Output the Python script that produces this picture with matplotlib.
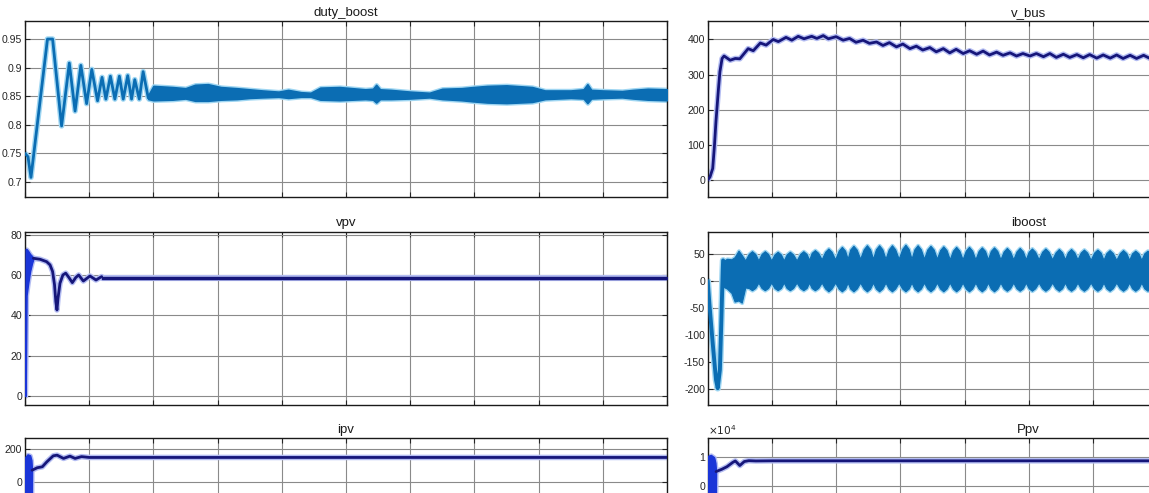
import matplotlib
matplotlib.use('Agg')
import matplotlib.pyplot as plt
from matplotlib.ticker import FuncFormatter

plt.rcParams['font.family'] = ['Liberation Sans', 'DejaVu Sans']

# ---------------- data (time axis 0..10) ----------------
x_ticks = [0, 1, 2, 3, 4, 5, 6, 7, 8, 9, 10]

# duty_boost : start-up zigzag
duty_t = [0, 0.047, 0.093, 0.35, 0.43, 0.57, 0.69, 0.78, 0.87, 0.96, 1.04, 1.13, 1.20,
          1.26, 1.33, 1.40, 1.47, 1.53, 1.60, 1.66, 1.71, 1.78, 1.84, 1.92]
duty_v = [0.750, 0.744, 0.708, 0.950, 0.950, 0.798, 0.908, 0.824, 0.904, 0.837, 0.897,
          0.842, 0.883, 0.845, 0.885, 0.845, 0.885, 0.845, 0.886, 0.845, 0.879, 0.845,
          0.893, 0.847]
# duty_boost : fast ripple band (envelope)
duty_band_t = [1.92, 2.0, 2.3, 2.5, 2.65, 2.85, 3.05, 3.3, 3.5, 3.7, 3.95, 4.1, 4.3, 4.45,
               4.6, 4.9, 5.1, 5.3, 5.42, 5.47, 5.53, 5.7, 6.0, 6.3, 6.5, 6.8, 6.98, 7.2,
               7.5, 7.9, 8.1, 8.5, 8.7, 8.76, 8.82, 9.0, 9.3, 9.47, 9.7, 10.0]
duty_band_hi = [0.852, 0.868, 0.866, 0.864, 0.870, 0.871, 0.866, 0.864, 0.862, 0.860,
                0.858, 0.861, 0.857, 0.856, 0.865, 0.866, 0.864, 0.862, 0.863, 0.870,
                0.862, 0.861, 0.858, 0.856, 0.863, 0.864, 0.866, 0.868, 0.869, 0.866,
                0.860, 0.860, 0.862, 0.871, 0.861, 0.860, 0.859, 0.861, 0.863, 0.862]
duty_band_lo = [0.845, 0.843, 0.844, 0.846, 0.842, 0.842, 0.844, 0.845, 0.847, 0.848,
                0.849, 0.847, 0.849, 0.849, 0.844, 0.843, 0.844, 0.845, 0.844, 0.839,
                0.845, 0.845, 0.846, 0.848, 0.845, 0.843, 0.841, 0.839, 0.838, 0.840,
                0.845, 0.847, 0.846, 0.838, 0.846, 0.847, 0.848, 0.846, 0.844, 0.843]

# v_bus
vbus_t = [0, 0.036, 0.078, 0.104, 0.13, 0.166, 0.19, 0.224, 0.255, 0.35, 0.43, 0.50,
          0.63, 0.71, 0.82, 0.91, 1.02, 1.10, 1.22, 1.31, 1.41, 1.50, 1.62, 1.70, 1.80,
          1.88, 2.00, 2.11, 2.21, 2.31, 2.42, 2.52, 2.63, 2.73, 2.83, 2.94, 3.04, 3.15,
          3.25, 3.35, 3.46, 3.56, 3.67, 3.77, 3.87, 3.98, 4.08, 4.19, 4.29, 4.39, 4.50,
          4.60, 4.71, 4.81, 4.91, 5.02, 5.12, 5.23, 5.33, 5.43, 5.54, 5.64, 5.75, 5.85,
          5.95, 6.06, 6.16, 6.27, 6.37, 6.47, 6.58, 6.68, 6.79, 6.89, 7.00]
vbus_v = [0, 9, 33, 95, 170, 256, 308, 346, 353, 341, 346, 345, 374, 368, 390, 384, 400,
          394, 406, 398, 409, 402, 409, 403, 411, 402, 408, 398, 403, 392, 398, 389, 393,
          383, 391, 379, 387, 374, 381, 370, 377, 365, 374, 362, 372, 360, 368, 358, 367,
          356, 364, 355, 362, 353, 360, 353, 360, 351, 360, 349, 358, 349, 357, 348, 357,
          347, 356, 347, 356, 346, 355, 346, 355, 346, 354]

# vpv
vpv_blob_t = [0.0, 0.01, 0.025, 0.05, 0.08, 0.11, 0.13]
vpv_blob_hi = [0, 73, 73, 72, 70.5, 69.5, 68.5]
vpv_blob_lo = [0, 0, 50, 56, 62, 66, 68]
vpv_t = [0.13, 0.234, 0.337, 0.39, 0.43, 0.46, 0.48, 0.498, 0.514, 0.545, 0.59, 0.634,
         0.685, 0.737, 0.79, 0.836, 0.909, 1.012, 1.106, 1.194]
vpv_v = [68.4, 67.9, 66.7, 65.1, 61.8, 55.2, 46.9, 42.7, 48.5, 56.0, 60.1, 61.0, 58.8,
         56.3, 58.8, 60.1, 57.1, 59.6, 57.6, 59.3]
vpv_tail_t = [1.194, 10.0]
vpv_tail_hi = [59.3, 59.3]
vpv_tail_lo = [57.9, 57.9]

# iboost : start-up dip
ib_dip_t = [0, 0.0255, 0.078, 0.13, 0.156, 0.19, 0.213, 0.234, 0.24]
ib_dip_v = [0, -41, -115, -183, -198, -164, -72, 20, 38]
# iboost : switching band envelope (necks, shoulders and peaks of the beats)
ib_t = [0.23, 0.30, 0.37, 0.42, 0.48, 0.53, 0.585,
        0.64, 0.69, 0.74, 0.79, 0.84, 0.89, 0.94, 0.99, 1.04, 1.09, 1.14, 1.185,
        1.23, 1.28, 1.33, 1.385, 1.44, 1.49, 1.54, 1.58, 1.62, 1.67, 1.72, 1.775,
        1.83, 1.88, 1.93, 1.985, 2.04, 2.09, 2.14, 2.18, 2.22, 2.27, 2.32, 2.375,
        2.43, 2.48, 2.53, 2.575, 2.62, 2.67, 2.72, 2.77, 2.82, 2.87, 2.92, 2.975,
        3.03, 3.08, 3.13, 3.175, 3.22, 3.27, 3.32, 3.37, 3.42, 3.47, 3.52, 3.57,
        3.62, 3.67, 3.72, 3.77, 3.82, 3.87, 3.92, 3.97, 4.02, 4.07, 4.12, 4.17,
        4.22, 4.27, 4.32, 4.365, 4.41, 4.46, 4.51, 4.56, 4.61, 4.66, 4.71, 4.76,
        4.81, 4.86, 4.91, 4.955, 5.00, 5.05, 5.10, 5.155, 5.21, 5.26, 5.31, 5.365,
        5.42, 5.47, 5.52, 5.565, 5.61, 5.66, 5.71, 5.76, 5.81, 5.86, 5.91, 5.965,
        6.02, 6.07, 6.12, 6.165, 6.21, 6.26, 6.31, 6.365, 6.42, 6.47, 6.52, 6.565,
        6.61, 6.66, 6.71, 6.755, 6.80, 6.85, 6.90, 6.95, 7.00, 7.05]
ib_hi = [36, 41, 40, 44, 56, 48, 38,
         50, 55, 50, 38, 50, 55, 50, 38, 49, 54, 49, 38, 49, 54, 49, 38,
         50, 55, 50, 39, 52, 57, 52, 40, 54, 60, 54, 40, 56, 63, 56, 41,
         58, 65, 58, 41, 58.5, 66, 58.5, 41, 58.5, 66, 58.5, 41, 58.5, 66, 58.5, 41,
         59, 67, 59, 41, 58.5, 66, 58.5, 41, 58, 65, 58, 41, 57, 64, 57, 40,
         56, 63, 56, 40, 56, 63, 56, 40, 55.5, 62, 55.5, 40, 55.5, 62, 55.5, 40,
         54.5, 61, 54.5, 40, 54.5, 61, 54.5, 40, 54, 60, 54, 40, 54, 60, 54, 40,
         53, 59, 53, 40, 53, 59, 53, 40, 52.5, 58, 52.5, 39, 52.5, 58, 52.5, 39,
         51.5, 57, 51.5, 39, 51.5, 57, 51.5, 39, 51, 56, 51, 39, 51, 56, 51, 39,
         51, 56]
ib_lo = [-10, -14, -22, -38, -36, -40, -12,
         -13, -17, -13, -3, -13, -17, -13, -3, -13, -17, -13, -3, -13, -17, -13, -3,
         -13, -17, -13, -3, -13, -17, -13, -3, -14, -19, -14, -3, -14, -19, -14, -3,
         -14, -19, -14, -3, -14, -19, -14, -3, -14, -19, -14, -3, -14, -19, -14, -3,
         -14, -19, -14, -3, -14, -19, -14, -3, -14, -19, -14, -3, -14, -19, -14, -3,
         -14, -19, -14, -3, -14, -19, -14, -3, -14, -19, -14, -3, -14, -19, -14, -3,
         -13.5, -18, -13.5, -3, -13.5, -18, -13.5, -3, -13.5, -18, -13.5, -3,
         -13.5, -18, -13.5, -3, -13.5, -18, -13.5, -3, -13.5, -18, -13.5, -3,
         -13.5, -18, -13.5, -3, -13.5, -18, -13.5, -3, -13.5, -18, -13.5, -3,
         -13.5, -18, -13.5, -3, -13.5, -18, -13.5, -3, -13.5, -18, -13.5, -3,
         -13.5, -18]

# ipv
ipv_blob_t = [0.0, 0.005, 0.04, 0.08, 0.10, 0.11]
ipv_blob_hi = [0, 150, 166, 160, 130, 69]
ipv_blob_lo = [0, -700, -700, -650, -400, 69]
ipv_t = [0.11, 0.19, 0.27, 0.34, 0.44, 0.50, 0.60, 0.70, 0.78, 0.88, 1.0, 10.0]
ipv_v = [69, 84, 90, 120, 157, 161, 141, 155, 141, 152, 147, 147]

# Ppv
ppv_blob_t = [0.0, 0.005, 0.05, 0.10, 0.12, 0.13]
ppv_blob_hi = [0, 10500, 10800, 10000, 8000, 5000]
ppv_blob_lo = [0, -38000, -38000, -36000, -20000, 5000]
ppv_t = [0.13, 0.22, 0.30, 0.39, 0.43, 0.47, 0.50, 0.57, 0.64, 0.75, 1.0, 10.0]
ppv_v = [5000, 5800, 6700, 8200, 8700, 7800, 7100, 8500, 8800, 8700, 8750, 8750]

# ---------------- styling ----------------
W, H = 1149, 493
fig = plt.figure(figsize=(W / 100, H / 100), dpi=100)
fig.patch.set_facecolor('white')

AXW = 642
cols = [25, 707.7]
rows = [(21.5, 175.5), (231.7, 173.3), (438.3, 173.5)]


def make_ax(col, row):
    x0 = cols[col]
    top, h = rows[row]
    return fig.add_axes([x0 / W, (H - top - h) / H, AXW / W, h / H])


BLUE = '#0b6db3'
BLUE_GLOW = '#9fd6f2'
NAVY = '#16167a'
NAVY_GLOW = '#b4bdf2'
BRIGHT = '#1a35d8'
TXT = '#262626'


def style(ax, title, ylim, yticks, fmt=None):
    ax.set_xlim(0, 10)
    ax.set_ylim(*ylim)
    ax.set_xticks(x_ticks)
    ax.set_yticks(yticks)
    ax.yaxis.set_major_formatter(fmt or FuncFormatter(lambda v, p: '%g' % v))
    ax.grid(True, color='#8a8a8a', lw=0.8)
    ax.set_axisbelow(True)
    ax.tick_params(direction='in', length=3.5, width=0.8, top=True, right=True,
                   labelbottom=False, labelsize=7.6, pad=2, colors=TXT)
    for s in ax.spines.values():
        s.set_linewidth(1.0)
        s.set_color('#1a1a1a')
    ax.set_title(title, fontsize=9.5, pad=4, color='#1a1a1a')


def glow_line(ax, t, v, core, glow, lw=2.0):
    ax.plot(t, v, color=glow, lw=lw + 2.0, solid_joinstyle='round',
            solid_capstyle='round', zorder=2)
    ax.plot(t, v, color=core, lw=lw, solid_joinstyle='round',
            solid_capstyle='round', zorder=3)


def band(ax, t, lo, hi, core, glow, edge_lw=0.8):
    ax.fill_between(t, lo, hi, facecolor=glow, edgecolor=glow, lw=edge_lw + 2.0, zorder=2)
    ax.fill_between(t, lo, hi, facecolor=core, edgecolor=core, lw=edge_lw, zorder=3)


# duty_boost
ax = make_ax(0, 0)
glow_line(ax, duty_t, duty_v, BLUE, BLUE_GLOW, lw=2.0)
band(ax, duty_band_t, duty_band_lo, duty_band_hi, BLUE, BLUE_GLOW, edge_lw=1.2)
style(ax, 'duty_boost', (0.6737, 0.9807), [0.7, 0.75, 0.8, 0.85, 0.9, 0.95])

# v_bus
ax = make_ax(1, 0)
glow_line(ax, vbus_t, vbus_v, NAVY, NAVY_GLOW, lw=2.0)
style(ax, 'v_bus', (-48.3, 451.2), [0, 100, 200, 300, 400])

# vpv
ax = make_ax(0, 1)
band(ax, vpv_blob_t, vpv_blob_lo, vpv_blob_hi, BRIGHT, NAVY_GLOW, edge_lw=1.0)
glow_line(ax, vpv_t, vpv_v, NAVY, NAVY_GLOW, lw=2.0)
band(ax, vpv_tail_t, vpv_tail_lo, vpv_tail_hi, NAVY, NAVY_GLOW, edge_lw=1.0)
style(ax, 'vpv', (-4.5, 81.6), [0, 20, 40, 60, 80])

# iboost
ax = make_ax(1, 1)
glow_line(ax, ib_dip_t, ib_dip_v, BLUE, BLUE_GLOW, lw=2.8)
band(ax, ib_t, ib_lo, ib_hi, BLUE, BLUE_GLOW, edge_lw=0.8)
style(ax, 'iboost', (-229, 91), [-200, -150, -100, -50, 0, 50])

# ipv (only the ticks inside the visible part of the cropped axes)
ax = make_ax(0, 2)
band(ax, ipv_blob_t, ipv_blob_lo, ipv_blob_hi, BRIGHT, NAVY_GLOW, edge_lw=1.0)
glow_line(ax, ipv_t, ipv_v, NAVY, NAVY_GLOW, lw=2.0)
style(ax, 'ipv', (-796, 264), [0, 200])

# Ppv
ax = make_ax(1, 2)
band(ax, ppv_blob_t, ppv_blob_lo, ppv_blob_hi, BRIGHT, NAVY_GLOW, edge_lw=1.0)
glow_line(ax, ppv_t, ppv_v, NAVY, NAVY_GLOW, lw=2.0)
style(ax, 'Ppv', (-43900, 16600), [0, 10000],
      fmt=FuncFormatter(lambda v, p: '%g' % (v / 1e4)))
ax.text(0.0, 1.01, r'$\times10^{4}$', transform=ax.transAxes, ha='left', va='bottom',
        fontsize=7.6, color=TXT)

fig.savefig('out.png', dpi=100, facecolor='white')
